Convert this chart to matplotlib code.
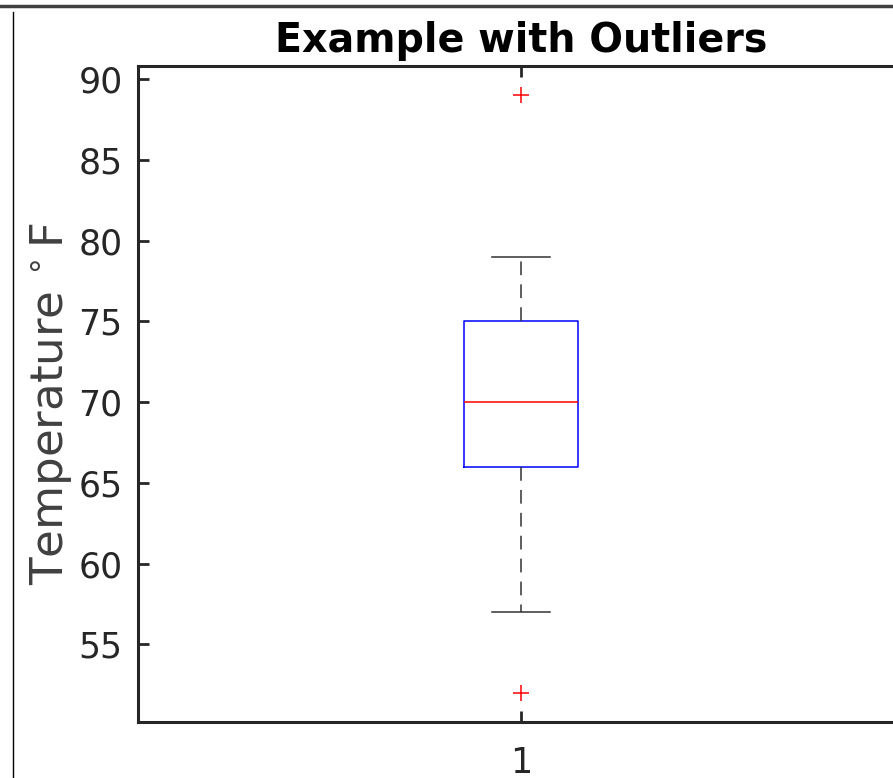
import matplotlib.pyplot as plt
from matplotlib.lines import Line2D

# box statistics
labels = ['1']
medians = [70]
q1s = [66]
q3s = [75]
whisker_lo = [57]
whisker_hi = [79]
outliers = [[52, 89]]

stats = []
for lab, med, q1, q3, lo, hi, fl in zip(labels, medians, q1s, q3s,
                                        whisker_lo, whisker_hi, outliers):
    stats.append(dict(label=lab, med=med, q1=q1, q3=q3,
                      whislo=lo, whishi=hi, fliers=fl))

fig = plt.figure(figsize=(8.93, 7.78), dpi=100)
ax = fig.add_axes([138 / 893, 56 / 778, 766 / 893, 656 / 778])

ax.bxp(stats, positions=[1], widths=0.15, showfliers=True,
       boxprops=dict(color='#0000ff', linewidth=1.1),
       medianprops=dict(color='#ff0000', linewidth=1.1),
       whiskerprops=dict(color='#333333', linestyle=(0, (9, 6)), linewidth=1.1),
       capprops=dict(color='#333333', linewidth=1.1),
       capwidths=0.075,
       flierprops=dict(marker='+', markeredgecolor='#ff0000',
                       markersize=12, markeredgewidth=1.1, linestyle='none'))

ax.set_xlim(0.5, 1.5)
ax.set_ylim(50.2, 90.8)
ax.set_yticks([55, 60, 65, 70, 75, 80, 85, 90])
ax.set_xticks([1])
ax.set_xticklabels(labels)

for s in ax.spines.values():
    s.set_linewidth(2.2)
    s.set_color('#262626')
ax.tick_params(direction='in', length=8, width=2, colors='#262626',
               labelsize=25, top=True, right=True)
ax.tick_params(axis='y', pad=11)
ax.tick_params(axis='x', pad=17)

ax.set_title('Example with Outliers', fontsize=28.5, fontweight='bold', pad=10)
ax.set_ylabel(r'Temperature $^{\circ}\,$F', fontsize=32.5, color='#404040',
              labelpad=3)
ax.yaxis.label.set_y(0.485)

# frame lines around the screenshot
fig.add_artist(Line2D([0, 1], [1 - 6 / 778, 1 - 6 / 778], color='#404040',
                      linewidth=2.5, transform=fig.transFigure))
fig.add_artist(Line2D([13 / 893, 13 / 893], [0, 1 - 12 / 778], color='black',
                      linewidth=1, transform=fig.transFigure))

fig.savefig('out.png', dpi=100)
